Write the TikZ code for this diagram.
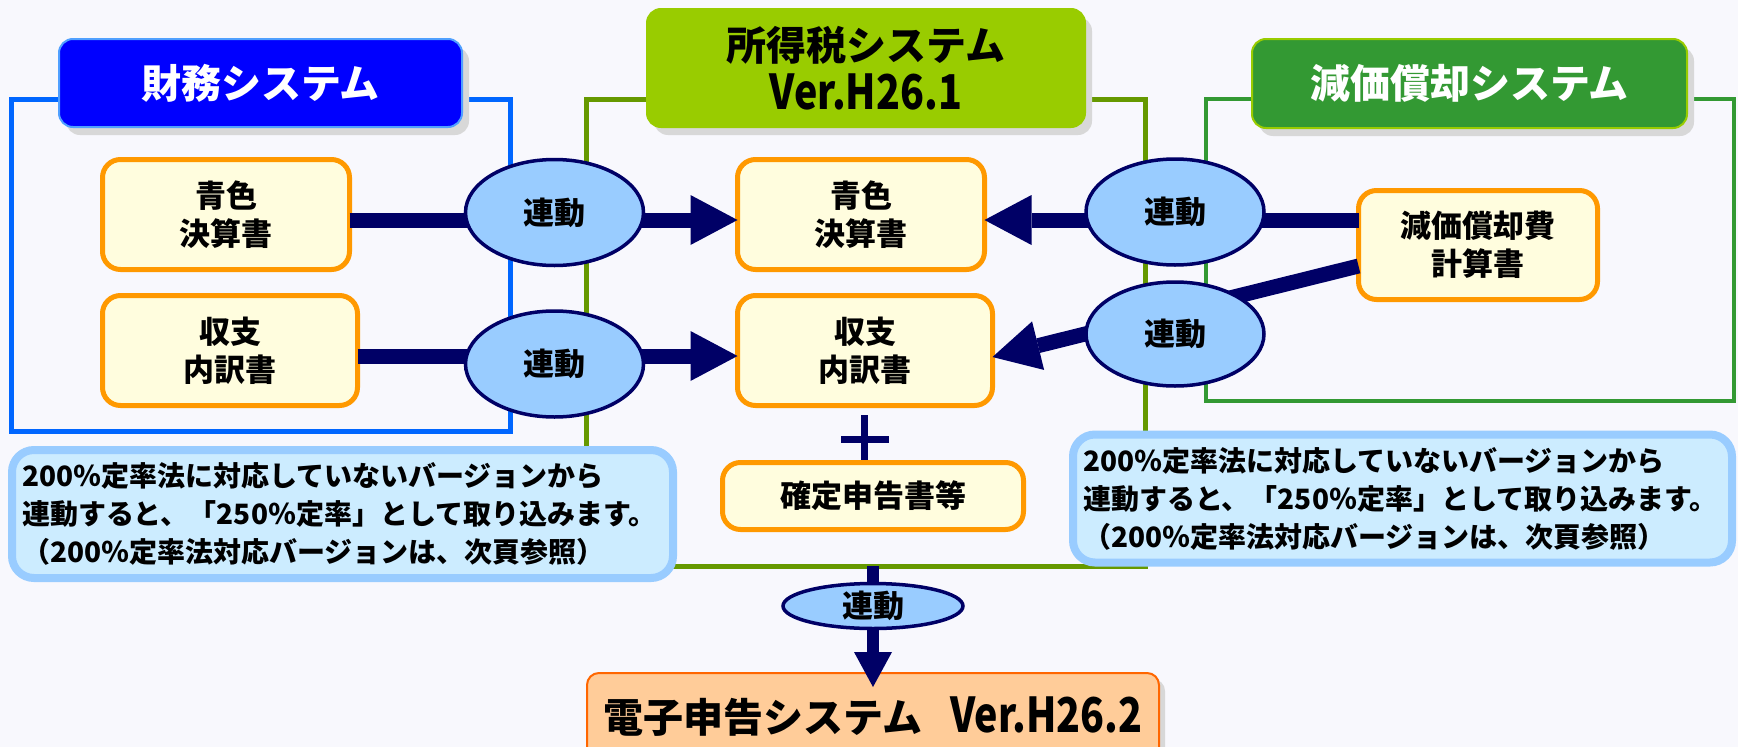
\documentclass[tikz,border=0pt]{standalone}
\usepackage{fontspec}
\usepackage{graphicx}
\newfontfamily\jp{Noto Sans CJK JP}
\usetikzlibrary{arrows.meta,shapes.geometric,shadows}
\definecolor{navy}{RGB}{0,0,102}
\definecolor{bgc}{RGB}{248,248,253}
\definecolor{zaimu}{RGB}{0,0,255}
\definecolor{zaimuedge}{RGB}{80,160,255}
\definecolor{zaimuframe}{RGB}{0,102,255}
\definecolor{shotoku}{RGB}{153,204,0}
\definecolor{shotokuframe}{RGB}{102,153,0}
\definecolor{genka}{RGB}{51,153,51}
\definecolor{docedge}{RGB}{255,153,0}
\definecolor{docfill}{RGB}{255,253,222}
\definecolor{linkfill}{RGB}{153,204,255}
\definecolor{notefill}{RGB}{204,236,255}
\definecolor{noteedge}{RGB}{153,204,255}
\definecolor{denshifill}{RGB}{255,204,153}
\definecolor{denshiedge}{RGB}{255,102,0}
\definecolor{shadowc}{RGB}{216,216,216}
\newcommand\latinV[1]{\scalebox{0.82}[1]{\fontsize{48}{48}\selectfont #1}}
\begin{document}
\begin{tikzpicture}[x=1pt,y=-1pt,
  every node/.style={inner sep=0pt, outer sep=0pt},
  titlebox/.style={rounded corners=14pt, line width=2pt, align=center,
    font={\jp\bfseries\fontsize{40}{51}\selectfont},
    general shadow={fill=shadowc, shadow xshift=7pt, shadow yshift=-8pt}},
  frame/.style={line width=5pt},
  docbox/.style={draw=docedge, fill=docfill, line width=5pt, rounded corners=18pt,
    align=center, font={\jp\bfseries\fontsize{31}{38}\selectfont}},
  linkell/.style={ellipse, draw=navy, fill=linkfill, line width=3.5pt,
    font={\jp\bfseries\fontsize{31}{38}\selectfont}},
  notebox/.style={draw=noteedge, fill=notefill, line width=8pt, rounded corners=22pt,
    align=left, inner xsep=10pt, text width=641pt, minimum height=128pt,
    font={\jp\bfseries\fontsize{28}{38}\selectfont}},
  conn/.style={draw=navy, line width=15pt},
  bigtip/.style={-{Triangle[length=47pt,width=50pt,line width=0pt]}},
  smalltip/.style={-{Triangle[length=35pt,width=38pt,line width=0pt]}}
]
\useasboundingbox (0,0) rectangle (1738,747);
\clip (0,0) rectangle (1738,747);
\fill[bgc] (0,0) rectangle (1738,747);

% system frames
\draw[frame, zaimuframe] (11,99) rectangle (510,431);
\draw[frame, shotokuframe] (586,99) rectangle (1145,566);
\draw[frame, genka, line width=4.5pt] (1206,99) rectangle (1734,401);

% titles
\node[titlebox, fill=zaimu, draw=zaimuedge, text=white, minimum width=403pt, minimum height=88pt] (tZ) at (260.5,83) {財務システム};
\node[titlebox, fill=shotoku, draw=shotoku, text=black, minimum width=438pt, minimum height=118pt] (tS) at (866,68) {所得税システム\\[-2pt]\latinV{Ver.H26.1}};
\node[titlebox, fill=genka, draw=shotoku, text=white, minimum width=435pt, minimum height=89pt] (tG) at (1469.5,83.5) {減価償却システム};

% notes
\node[notebox] (nL) at (342.5,514) {200％定率法に対応していないバージョンから\\連動すると、「250％定率」として取り込みます。\\（200％定率法対応バージョンは、次頁参照）};
\node[notebox, text width=639pt] (nR) at (1402.5,498.5) {200％定率法に対応していないバージョンから\\連動すると、「250％定率」として取り込みます。\\（200％定率法対応バージョンは、次頁参照）};

% plus sign
\draw[navy, line width=7pt] (864,415) -- (864,463) (841,439) -- (889,439);

% documents
\node[docbox, minimum width=247pt, minimum height=110pt] (bL1) at (226,214.5) {青色\\決算書};
\node[docbox, minimum width=255pt, minimum height=110pt] (bL2) at (230,350.5) {収支\\内訳書};
\node[docbox, minimum width=247pt, minimum height=110pt] (bC1) at (861,214.5) {青色\\決算書};
\node[docbox, minimum width=255pt, minimum height=110pt] (bC2) at (865,350.5) {収支\\内訳書};
\node[docbox, minimum width=301pt, minimum height=67pt] (bK) at (873,496) {確定申告書等};
\node[docbox, minimum width=239pt, minimum height=109pt] (bG) at (1478,245) {減価償却費\\計算書};

% e-filing system
\node[fill=denshifill, draw=denshiedge, line width=2pt, rounded corners=12pt,
  general shadow={fill=shadowc, shadow xshift=6pt, shadow yshift=-6pt},
  minimum width=572pt, minimum height=87pt,
  font={\jp\bfseries\fontsize{40}{48}\selectfont}] (dS) at (873,716.5) {電子申告システム\hspace{28pt}\latinV{Ver.H26.2}};

% connectors
\coordinate (r1) at (0,220);
\coordinate (r2) at (0,356);
\coordinate (fbot) at (0,566);
\draw[conn, bigtip] (bL1.east |- r1) -- (bC1.west |- r1);
\draw[conn, bigtip] (bL2.east |- r2) -- (bC2.west |- r2);
\draw[conn, bigtip] (bG.west |- r1) -- (bC1.east |- r1);
\draw[conn, bigtip] ([yshift=-21pt]bG.west) -- ([yshift=-6.5pt]bC2.east);
\draw[conn, line width=12pt, smalltip] (dS.north |- fbot) -- ([yshift=-14pt]dS.north);

% link ellipses
\node[linkell, minimum width=178pt, minimum height=106pt] (e1) at (554.5,212.5) {連動};
\node[linkell, minimum width=178pt, minimum height=106pt] (e2) at (554.5,364) {連動};
\node[linkell, minimum width=178pt, minimum height=106pt] (e3) at (1175,212) {連動};
\node[linkell, minimum width=178pt, minimum height=104pt] (e4) at (1175,334) {連動};
\node[linkell, minimum width=180pt, minimum height=45pt] (e5) at (873,606) {連動};
\end{tikzpicture}
\end{document}
